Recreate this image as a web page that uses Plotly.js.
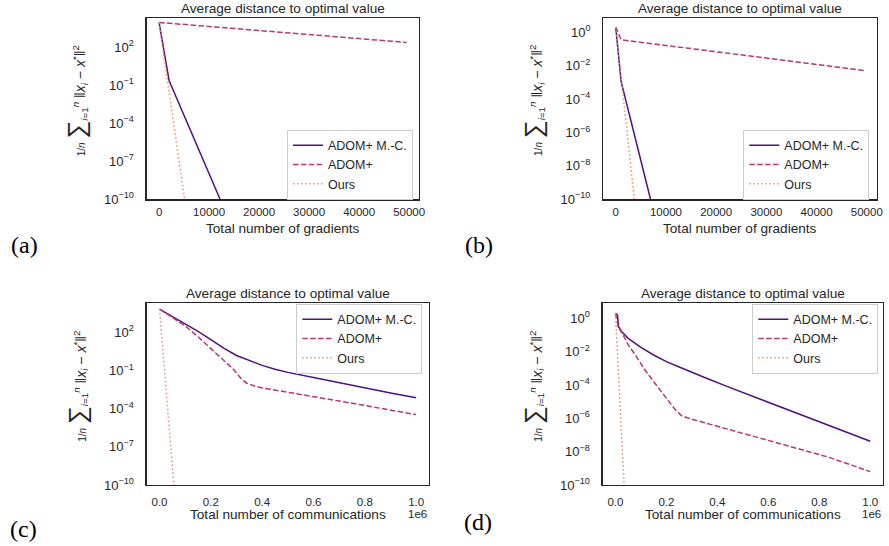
<!DOCTYPE html>
<html>
<head>
<meta charset="utf-8">
<script src="https://cdn.plot.ly/plotly-3.0.1.min.js"></script>
<style>html,body{margin:0;padding:0;background:#fff;}#chart{width:889px;height:546px;}</style>
</head>
<body>
<div id="chart"></div>
<script>
// ---------- data ----------
const seriesNames = ["ADOM+ M.-C.", "ADOM+", "Ours"];
const panelTitle = "Average distance to optimal value";

// (a) gradients
const A_MC_X = [0, 2000, 12200];
const A_MC_Y = [9100, 0.24, 1e-10];
const A_AD_X = [0, 49500];
const A_AD_Y = [9100, 240];
const A_OURS_X = [0, 5100];
const A_OURS_Y = [9100, 1e-10];

// (b) gradients
const B_MC_X = [0, 1070, 6930];
const B_MC_Y = [2.1, 0.00115, 1e-10];
const B_AD_X = [0, 1070, 49500];
const B_AD_Y = [2.1, 0.36, 0.0052];
const B_OURS_X = [0, 3700];
const B_OURS_Y = [2.1, 1e-10];

// (c) communications
const C_MC_X = [0, 50000, 100000, 150000, 200000, 250000, 300000, 350000, 400000, 450000, 500000, 600000, 700000, 800000, 900000, 1000000];
const C_MC_Y = [6760, 1780, 501, 120, 26.3, 5.62, 1.51, 0.603, 0.251, 0.126, 0.0708, 0.0282, 0.0107, 0.00417, 0.0017, 0.000708];
const C_AD_X = [0, 50000, 100000, 150000, 200000, 250000, 290000, 320000, 340000, 370000, 400000, 500000, 600000, 700000, 800000, 900000, 1000000];
const C_AD_Y = [6760, 1410, 316, 44.7, 5.62, 0.631, 0.112, 0.02, 0.01, 0.00603, 0.00427, 0.002, 0.000891, 0.000398, 0.000178, 7.94e-5, 3.39e-5];
const C_OURS_X = [0, 56000];
const C_OURS_Y = [6760, 1e-10];

// (d) communications
const D_MC_X = [0, 8000, 12000, 25000, 50000, 100000, 150000, 200000, 250000, 300000, 350000, 440000, 550000, 700000, 850000, 1000000];
const D_MC_Y = [2.0, 1.58, 0.316, 0.158, 0.0631, 0.0178, 0.00631, 0.00251, 0.0012, 0.000562, 0.000282, 7.94e-5, 1.78e-5, 2.24e-6, 3.16e-7, 4.17e-8];
const D_AD_X = [0, 11000, 30000, 50000, 76000, 116000, 155000, 207000, 233000, 260000, 300000, 377000, 500000, 638000, 834000, 1000000];
const D_AD_Y = [2.0, 0.316, 0.1, 0.0251, 0.00708, 0.000794, 0.000126, 1.26e-5, 3.55e-6, 1.41e-6, 8.91e-7, 4.17e-7, 1.26e-7, 3.31e-8, 4.79e-9, 6.31e-10];
const D_OURS_X = [0, 34000];
const D_OURS_Y = [2.0, 1e-10];

// tick labels
const gradTickVals = [0, 10000, 20000, 30000, 40000, 50000];
const gradTickText = ["0", "10000", "20000", "30000", "40000", "50000"];
const commTickVals = [0, 200000, 400000, 600000, 800000, 1000000];
const commTickText = ["0.0", "0.2", "0.4", "0.6", "0.8", "1.0"];
const yTicks3Vals = [1e2, 1e-1, 1e-4, 1e-7, 1e-10];
const yTicks3Text = ["10<sup>2</sup>", "10<sup>−1</sup>", "10<sup>−4</sup>", "10<sup>−7</sup>", "10<sup>−10</sup>"];
const yTicks2Vals = [1, 1e-2, 1e-4, 1e-6, 1e-8, 1e-10];
const yTicks2Text = ["10<sup>0</sup>", "10<sup>−2</sup>", "10<sup>−4</sup>", "10<sup>−6</sup>", "10<sup>−8</sup>", "10<sup>−10</sup>"];

// ---------- styles ----------
const W = 889, H = 546;
const colors = ["#51127c", "#b73779", "#fc8961"];
const dashes = ["solid", "5.5px,2.4px", "1.5px,2.5px"];
const ink = "#262626";
const FONT = "Liberation Sans, Arial, sans-serif";

// pixel boxes of the four panels [left, right, top, bottom]
const boxes = {
  a: [146.7, 419, 18, 199.3],
  b: [603.3, 876.7, 18, 199.3],
  c: [146.7, 429, 303.3, 485],
  d: [602.7, 883, 303.3, 485]
};
const px = v => v / W, py = v => 1 - v / H;

const panels = [
  {k: "a", xs: [A_MC_X, A_AD_X, A_OURS_X], ys: [A_MC_Y, A_AD_Y, A_OURS_Y], xr: [-2475, 51975], yr: [-10, 4.31], xtv: gradTickVals, xtt: gradTickText, ytv: yTicks3Vals, ytt: yTicks3Text, xt: "Total number of gradients", xso: 2, xty: 29, legy: 164.5},
  {k: "b", xs: [B_MC_X, B_AD_X, B_OURS_X], ys: [B_MC_Y, B_AD_Y, B_OURS_Y], xr: [-2475, 51975], yr: [-10, 0.86], xtv: gradTickVals, xtt: gradTickText, ytv: yTicks2Vals, ytt: yTicks2Text, xt: "Total number of gradients", xso: 2, xty: 29, legy: 164.5, legx: 869.3},
  {k: "c", xs: [C_MC_X, C_AD_X, C_OURS_X], ys: [C_MC_Y, C_AD_Y, C_OURS_Y], xr: [-50000, 1050000], yr: [-10, 4.28], xtv: commTickVals, xtt: commTickText, ytv: yTicks3Vals, ytt: yTicks3Text, xt: "Total number of communications", xso: 6, xty: 29, legy: 338.5, legx: 422.3},
  {k: "d", xs: [D_MC_X, D_AD_X, D_OURS_X], ys: [D_MC_Y, D_AD_Y, D_OURS_Y], xr: [-50000, 1050000], yr: [-10, 0.9], xtv: commTickVals, xtt: commTickText, ytv: yTicks2Vals, ytt: yTicks2Text, xt: "Total number of communications", xso: 6, xty: 29, legy: 338.5, legx: 878.3}
];
panels[0].legx = 413;

const yTitle = '<span style="font-size:10px">1/<i>n</i></span> <span style="font-size:25px">∑</span><sub><i>i</i>=1</sub><sup><i>n</i></sup> ‖<i>x</i><sub><i>i</i></sub> − <i>x</i><sup>*</sup>‖<sup>2</sup>';

const data = [];
const layout = {
  width: W, height: H,
  margin: {l: 0, r: 0, t: 0, b: 0},
  paper_bgcolor: "#ffffff", plot_bgcolor: "#ffffff",
  font: {family: FONT, color: ink, size: 12},
  annotations: []
};

panels.forEach((p, i) => {
  const n = i + 1;
  const xa = "x" + (n === 1 ? "" : n), ya = "y" + (n === 1 ? "" : n);
  const legName = "legend" + (n === 1 ? "" : n);
  const b = boxes[p.k];
  for (let s = 0; s < 3; s++) {
    data.push({
      type: "scatter", mode: "lines",
      x: p.xs[s], y: p.ys[s],
      name: seriesNames[s],
      xaxis: xa, yaxis: ya,
      legend: legName, showlegend: true,
      line: {color: colors[s], width: 1.5, dash: dashes[s]}
    });
  }
  const axCommon = {
    showgrid: false, zeroline: false, showline: true, mirror: true,
    linecolor: ink, linewidth: 1.25, ticks: "", automargin: false
  };
  layout["xaxis" + (n === 1 ? "" : n)] = Object.assign({}, axCommon, {
    domain: [px(b[0]), px(b[1])], anchor: ya, range: p.xr,
    tickfont: {family: FONT, size: 11.5, color: ink},
    tickmode: "array", tickvals: p.xtv, ticktext: p.xtt, ticklabelstandoff: p.xso
  });
  layout["yaxis" + (n === 1 ? "" : n)] = Object.assign({}, axCommon, {
    domain: [py(b[3]), py(b[2])], anchor: xa, type: "log", range: p.yr,
    tickfont: {family: FONT, size: 13, color: ink},
    tickmode: "array", tickvals: p.ytv, ticktext: p.ytt, ticklabelstandoff: 9
  });
  layout[legName] = {
    bgcolor: "rgba(255,255,255,0.8)", bordercolor: "#cccccc", borderwidth: 1,
    font: {family: FONT, size: 12.5, color: ink},
    xanchor: "right", x: px(p.legx), yanchor: "middle", y: py(p.legy),
    tracegroupgap: 0, itemwidth: 30
  };

  const cx = (b[0] + b[1]) / 2, cy = (b[2] + b[3]) / 2;
  // panel title
  layout.annotations.push({text: panelTitle, xref: "paper", yref: "paper", x: px(cx), y: py(b[2] - 9.5),
    xanchor: "center", yanchor: "middle", showarrow: false, font: {family: FONT, size: 13.6, color: ink}});
  // x-axis title
  layout.annotations.push({text: p.xt, xref: "paper", yref: "paper", x: px(cx), y: py(b[3] + p.xty),
    xanchor: "center", yanchor: "middle", showarrow: false, font: {family: FONT, size: 13.6, color: ink}});
  // y-axis title
  layout.annotations.push({text: yTitle, xref: "paper", yref: "paper", x: px(b[0] - 70), y: py(cy - 8),
    xanchor: "center", yanchor: "middle", textangle: -90, showarrow: false, font: {family: FONT, size: 14, color: ink}});
  // offset text
  if (p.k === "c" || p.k === "d") {
    layout.annotations.push({text: "1e6", xref: "paper", yref: "paper", x: px(b[1]), y: py(b[3] + 29),
      xanchor: "right", yanchor: "middle", showarrow: false, font: {family: FONT, size: 11.5, color: ink}});
  }
});

// panel letters
const letters = [["(a)", 24, 245], ["(b)", 479, 245], ["(c)", 23, 529], ["(d)", 478.5, 522]];
letters.forEach(l => layout.annotations.push({text: l[0], xref: "paper", yref: "paper", x: px(l[1]), y: py(l[2]),
  xanchor: "center", yanchor: "middle", showarrow: false, font: {family: "Liberation Serif, DejaVu Serif, serif", size: 24, color: "#000"}}));

Plotly.newPlot("chart", data, layout, {staticPlot: true, displayModeBar: false});
</script>
</body>
</html>
